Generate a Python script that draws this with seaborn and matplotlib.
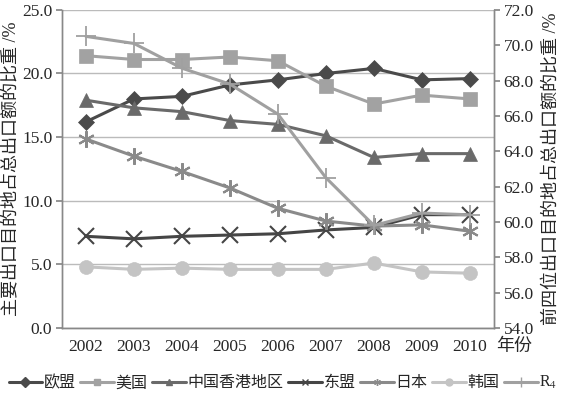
import pandas as pd
import numpy as np
import matplotlib.pyplot as plt
from matplotlib.lines import Line2D
import seaborn as sns

sns.set_theme(style="white")
plt.rcParams['font.family'] = ['Liberation Serif', 'Noto Sans CJK SC']
plt.rcParams['mathtext.fontset'] = 'stix'

years = ['2002', '2003', '2004', '2005', '2006', '2007', '2008', '2009', '2010']

eu = [16.2, 18.0, 18.2, 19.1, 19.5, 20.0, 20.4, 19.5, 19.6]
us = [21.4, 21.1, 21.1, 21.3, 21.0, 19.0, 17.6, 18.3, 18.0]
hk = [17.9, 17.3, 17.0, 16.3, 16.0, 15.1, 13.4, 13.7, 13.7]
asean = [7.2, 7.0, 7.2, 7.3, 7.4, 7.7, 7.9, 8.9, 8.9]
japan = [14.85, 13.5, 12.3, 11.0, 9.4, 8.4, 8.0, 8.1, 7.6]
korea = [4.8, 4.6, 4.7, 4.6, 4.6, 4.6, 5.1, 4.4, 4.3]
r4 = [70.5, 70.1, 68.7, 67.8, 66.1, 62.5, 59.8, 60.5, 60.4]

names = ['欧盟', '美国', '中国香港地区', '东盟', '日本', '韩国']
series = [eu, us, hk, asean, japan, korea]
colors = ['#4a4a4a', '#a2a2a2', '#6a6a6a', '#454545', '#8a8a8a', '#c4c4c4']
markers = ['D', 's', '^', 'x', (6, 2, 0), 'o']
msizes = [8, 10, 10, 11, 12, 10]
r4_name = 'R$_4$'
r4_color = '#a0a0a0'

df = pd.DataFrame({'year': np.tile(np.arange(len(years)), len(names)),
                   'region': np.repeat(names, len(years)),
                   'share': np.concatenate(series)})

fig = plt.figure(figsize=(5.66, 3.96), dpi=100)
ax = fig.add_axes([0.1095, 0.172, 0.763, 0.803])
ax2 = ax.twinx()

for name, col, mk, ms in zip(names, colors, markers, msizes):
    sub = df[df['region'] == name]
    sns.lineplot(data=sub, x='year', y='share', ax=ax, color=col, marker=mk,
                 markersize=ms, markeredgecolor=col,
                 markeredgewidth=1.5 if mk in ['x', (6, 2, 0)] else 0.5,
                 linewidth=2.2, legend=False)

sns.lineplot(x=np.arange(len(years)), y=r4, ax=ax2, color=r4_color, marker='+',
             markersize=14, markeredgecolor=r4_color, markeredgewidth=1.3,
             linewidth=2.2, legend=False)

ax.set_xlim(-0.5, len(years) - 0.5)
ax.set_ylim(0, 25)
ax.set_yticks(np.arange(0, 25.1, 5))
ax.set_yticklabels([f'{v:.1f}' for v in np.arange(0, 25.1, 5)])
ax2.set_ylim(54, 72)
ax2.set_yticks(np.arange(54, 72.1, 2))
ax2.set_yticklabels([f'{v:.1f}' for v in np.arange(54, 72.1, 2)])

ax.set_xticks(np.arange(len(years)))
ax.set_xticklabels(years)
ax.set_xticks(np.arange(-0.5, len(years)), minor=True)
ax.tick_params(axis='x', which='major', length=0, labelsize=12.5, pad=8)
ax.tick_params(axis='x', which='minor', length=4, color='#888888', direction='out')
ax.tick_params(axis='y', length=4, color='#888888', direction='out', labelsize=12.5, pad=3)
ax2.tick_params(axis='y', length=4, color='#888888', direction='out', labelsize=12.5, pad=3)

ax.yaxis.grid(True, color='#bbbbbb', linewidth=1)
ax.set_axisbelow(True)
for a in (ax, ax2):
    for s in ['left', 'right', 'bottom']:
        a.spines[s].set_color('#888888')
        a.spines[s].set_linewidth(1)
    a.spines['top'].set_visible(False)

ax.set_xlabel('')
ax.set_ylabel('主要出口目的地占总出口额的比重 /%', fontsize=13, labelpad=2)
ax2.set_ylabel('前四位出口目的地占总出口额的比重 /%', fontsize=13, rotation=90, labelpad=6)
ax2.set_xlabel('')
fig.text(0.876, 0.124, '年份', fontsize=13, va='center', ha='left')

handles = []
for name, col, mk in zip(names, colors, markers):
    handles.append(Line2D([], [], color=col, marker=mk, markersize=5, linewidth=2.2,
                          markeredgewidth=1.0))
handles.append(Line2D([], [], color=r4_color, marker='+', markersize=7, linewidth=2.2,
                      markeredgewidth=1.0))
fig.legend(handles, names + [r4_name], loc='center', bbox_to_anchor=(0.5, 0.033), ncol=7,
           frameon=False, fontsize=11.5, handlelength=2.1, handletextpad=0.1,
           columnspacing=0.3, borderaxespad=0)

fig.savefig('out.png', dpi=100)
